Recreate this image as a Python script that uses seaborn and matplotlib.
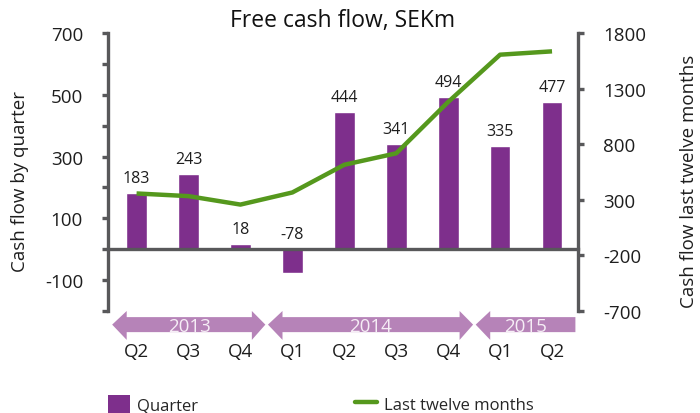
import numpy as np
import pandas as pd
import seaborn as sns
import matplotlib.pyplot as plt
from matplotlib.patches import Polygon, Patch
from matplotlib.lines import Line2D
import matplotlib.transforms as mtransforms


# data
quarters = ["Q2", "Q3", "Q4", "Q1", "Q2", "Q3", "Q4", "Q1", "Q2"]
years = ["2013", "2013", "2013", "2014", "2014", "2014", "2014", "2015", "2015"]
quarter_cf = [183, 243, 18, -78, 444, 341, 494, 335, 477]
ltm_cf = [357, 333, 257, 366, 615, 718, 1180, 1605, 1635]

left_ticks = list(range(-200, 701, 100))
left_labels = [-100, 100, 300, 500, 700]
right_ticks = [-700, -200, 300, 800, 1300, 1800]

PURPLE = "#7e2f8c"
GREEN = "#55981d"
ARROW = "#b683b8"
GREY = "#58585a"
TXT = "#1e1e1e"

sns.set_style("white")
plt.rcParams["font.family"] = ["Open Sans", "DejaVu Sans"]

data = pd.DataFrame({"pos": np.arange(len(quarters)), "quarter": quarters,
                     "year": years, "cf": quarter_cf, "ltm": ltm_cf})

fig = plt.figure(figsize=(7, 4.14), dpi=100)
ax = fig.add_axes([108 / 700, 1 - 312 / 414, 470 / 700, 278 / 414])
ax2 = ax.twinx()

sns.barplot(data=data, x="pos", y="cf", native_scale=True, color=PURPLE,
            saturation=1, width=0.4, ax=ax, zorder=2)
sns.lineplot(data=data, x="pos", y="ltm", color=GREEN, linewidth=3.2,
             ax=ax2, solid_capstyle="butt")

ax.set_xlim(-0.55, 8.5)
ax.set_ylim(-200, 700)
ax2.set_ylim(-700, 1800)

# value labels
for p, v in zip(data["pos"], data["cf"]):
    ax.annotate(str(v), (p, max(v, 0)), xytext=(0, 5), textcoords="offset points",
                ha="center", va="bottom", fontsize=11.5, color=TXT)

# axes styling
for a in (ax, ax2):
    for s in a.spines.values():
        s.set_visible(False)
    a.set_xlabel("")
    a.set_ylabel("")
ax.spines["left"].set_visible(True)
ax.spines["left"].set_color(GREY)
ax.spines["left"].set_linewidth(2.4)
ax.spines["bottom"].set_visible(True)
ax.spines["bottom"].set_position(("data", 0))
ax.spines["bottom"].set_color(GREY)
ax.spines["bottom"].set_linewidth(2.4)
ax2.spines["right"].set_visible(True)
ax2.spines["right"].set_color(GREY)
ax2.spines["right"].set_linewidth(2.4)

ax.set_yticks(left_ticks)
ax.set_yticklabels([str(t) if t in left_labels else "" for t in left_ticks])
ax.tick_params(axis="y", direction="out", length=4, width=2.4, color=GREY,
               labelsize=13.5, pad=14, labelcolor=TXT)
ax2.set_yticks(right_ticks)
ax2.set_yticklabels([str(t) for t in right_ticks])
ax2.tick_params(axis="y", direction="out", length=4, width=2.4, color=GREY,
                labelsize=13.5, pad=14, labelcolor=TXT)

ax.set_xticks(data["pos"])
ax.set_xticklabels([])
ax.tick_params(axis="x", which="major", length=0)
ax.set_xticks(data["pos"][:-1] + 0.5, minor=True)
ax.tick_params(axis="x", which="minor", direction="out", length=5, width=2.4, color=GREY)

ax.set_ylabel("Cash flow by quarter", fontsize=13.5, color=TXT)
ax2.set_ylabel("Cash flow last twelve months", fontsize=13.5, color=TXT)
ax.yaxis.set_label_coords((29 - 108) / 470, 0.47)
ax2.yaxis.set_label_coords((680 - 108) / 470, 0.47)

fig.text(343 / 700, 1 - 21 / 414, "Free cash flow, SEKm", ha="center", va="center",
         fontsize=16.5, color="#111111")

# quarter labels and year arrows under the axis
trans = mtransforms.blended_transform_factory(ax.transData, ax.transAxes)
for p, q in zip(data["pos"], data["quarter"]):
    ax.text(p, -0.145, q, transform=trans, ha="center", va="center",
            fontsize=13.5, color=TXT, clip_on=False)

y_top, y_bot = -0.022, -0.076
h_top, h_bot = 0.0, -0.104
head = 0.28
groups = data.groupby("year", sort=False)["pos"]
n_years = len(groups)
for i, (yr, pos) in enumerate(groups):
    x0 = pos.min() - 0.47
    x1 = pos.max() + 0.5
    y_mid = (y_top + y_bot) / 2
    verts = [(x0, y_mid), (x0 + head, h_top), (x0 + head, y_top)]
    if i < n_years - 1:
        verts += [(x1 - head, y_top), (x1 - head, h_top), (x1 - 0.02, y_mid),
                  (x1 - head, h_bot), (x1 - head, y_bot)]
    else:
        x1 = 8.45
        verts += [(x1, y_top), (x1, y_bot)]
    verts += [(x0 + head, y_bot), (x0 + head, h_bot)]
    ax.add_patch(Polygon(verts, closed=True, transform=trans, facecolor=ARROW,
                         edgecolor="none", clip_on=False))
    ax.text((x0 + x1) / 2, y_mid - 0.004, yr, transform=trans, ha="center",
            va="center", fontsize=13.5, color="#f6eef6", clip_on=False)

handles = [Patch(facecolor=PURPLE, edgecolor="none", label="Quarter"),
           Line2D([0], [0], color=GREEN, linewidth=3.2, label="Last twelve months")]
fig.legend(handles=handles, loc="center left", bbox_to_anchor=(108 / 700, 1 - 405 / 414),
           ncol=2, frameon=False, fontsize=12, handlelength=1.3, handleheight=1.3,
           handletextpad=0.45, columnspacing=9.4, borderpad=0, borderaxespad=0)

fig.savefig("out.png", dpi=100)
